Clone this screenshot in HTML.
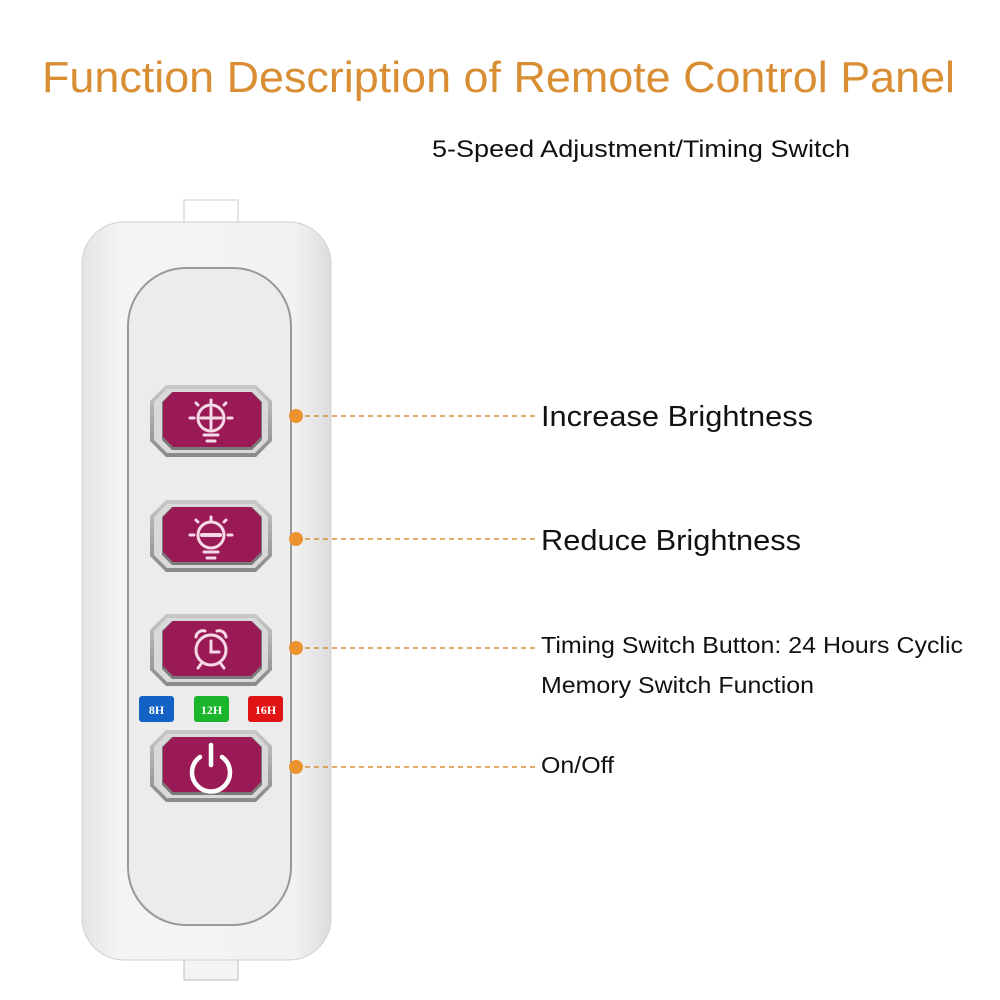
<!DOCTYPE html>
<html><head><meta charset="utf-8"><style>
html,body{margin:0;padding:0;background:#fff;}
body{width:1000px;height:1000px;overflow:hidden;position:relative;font-family:"Liberation Sans",Arial,sans-serif;}
</style></head><body>
<svg width="1000" height="1000" viewBox="0 0 1000 1000" xmlns="http://www.w3.org/2000/svg" style="position:absolute;left:0;top:0">
<defs>
<linearGradient id="body" x1="0" x2="1" y1="0" y2="0">
<stop offset="0" stop-color="#e4e4e4"/><stop offset="0.15" stop-color="#f4f4f4"/><stop offset="0.85" stop-color="#f2f2f2"/><stop offset="1" stop-color="#dcdcdc"/>
</linearGradient>
<linearGradient id="bez" x1="0" x2="0" y1="0" y2="1">
<stop offset="0" stop-color="#c8c8c8"/><stop offset="0.5" stop-color="#a8a8a8"/><stop offset="1" stop-color="#8a8a8a"/>
</linearGradient>
<g id="btn">
<polygon points="16,0 106,0 122,16 122,56 106,72 16,72 0,56 0,16" fill="url(#bez)"/>
<polygon points="17,4 105,4 118,17 118,55 105,68 17,68 4,55 4,17" fill="#d9d9d9"/>
<polygon points="22,7 102,7 112,17 112,55 102,65 22,65 12,55 12,17" fill="#7a7a7a"/>
<polygon points="23,7 101,7 111,17 111,52 101,62 23,62 13,52 13,17" fill="#9a1a55"/>
</g>
</defs>
<text x="42" y="92" font-size="44" fill="#d98e34" textLength="913" lengthAdjust="spacingAndGlyphs">Function Description of Remote Control Panel</text>
<text x="432" y="157" font-size="24" fill="#111" textLength="418" lengthAdjust="spacingAndGlyphs">5-Speed Adjustment/Timing Switch</text>

<rect x="184" y="200" width="54" height="30" fill="#fff" stroke="#ccc" stroke-width="1"/>
<rect x="184" y="950" width="54" height="30" fill="#f4f4f4" stroke="#bbb" stroke-width="1"/>
<rect x="82" y="222" width="249" height="738" rx="42" fill="url(#body)" stroke="#d0d0d0"/>
<rect x="128" y="268" width="163" height="657" rx="58" fill="#ececec" stroke="#999" stroke-width="2"/>

<use href="#btn" x="150" y="385"/>
<use href="#btn" x="150" y="500"/>
<use href="#btn" x="150" y="614"/>
<use href="#btn" x="150" y="730"/>

<g stroke="#f6d9e6" stroke-width="3" fill="none" stroke-linecap="round">
<circle cx="211" cy="418" r="13"/><line x1="201" y1="418" x2="221" y2="418"/><line x1="211" y1="408" x2="211" y2="428"/>
<line x1="204" y1="435" x2="218" y2="435"/><line x1="207" y1="441" x2="215" y2="441"/>
<line x1="211" y1="400" x2="211" y2="403"/><line x1="194" y1="418" x2="190" y2="418"/><line x1="228" y1="418" x2="232" y2="418"/>
<line x1="198" y1="405" x2="196" y2="403"/><line x1="224" y1="405" x2="226" y2="403"/>
<circle cx="211" cy="535" r="13"/><line x1="202" y1="535" x2="220" y2="535" stroke-width="4"/>
<line x1="204" y1="552" x2="218" y2="552"/><line x1="207" y1="558" x2="215" y2="558"/>
<line x1="211" y1="517" x2="211" y2="520"/><line x1="194" y1="535" x2="190" y2="535"/><line x1="228" y1="535" x2="232" y2="535"/>
<line x1="198" y1="522" x2="196" y2="520"/><line x1="224" y1="522" x2="226" y2="520"/>
<circle cx="211" cy="650" r="15"/><polyline points="211,641 211,652 219,652"/>
<line x1="201" y1="664" x2="198" y2="668"/><line x1="221" y1="664" x2="224" y2="668"/>
<path d="M196 637 a7 7 0 0 1 9 -6" /><path d="M226 637 a7 7 0 0 0 -9 -6"/>
<path d="M200 757 a19 19 0 1 0 22 0" stroke="#fff" stroke-width="4.5"/>
<line x1="211" y1="745" x2="211" y2="765" stroke="#fff" stroke-width="4.5"/>
</g>

<rect x="139" y="696" width="35" height="26" rx="3" fill="#1463c4"/>
<text x="156.5" y="714" text-anchor="middle" font-size="12" fill="#fff" font-family="Liberation Serif, serif" font-weight="bold">8H</text>
<rect x="194" y="696" width="35" height="26" rx="3" fill="#1ab52a"/>
<text x="211.5" y="714" text-anchor="middle" font-size="12" fill="#fff" font-family="Liberation Serif, serif" font-weight="bold">12H</text>
<rect x="248" y="696" width="35" height="26" rx="3" fill="#e01414"/>
<text x="265.5" y="714" text-anchor="middle" font-size="12" fill="#fff" font-family="Liberation Serif, serif" font-weight="bold">16H</text>

<g fill="#ec922e"><circle cx="296" cy="416" r="7"/><circle cx="296" cy="539" r="7"/><circle cx="296" cy="648" r="7"/><circle cx="296" cy="767" r="7"/></g>
<g stroke="#d98e34" stroke-width="1.5" stroke-dasharray="5,4">
<line x1="305" y1="416" x2="535" y2="416"/><line x1="305" y1="539" x2="535" y2="539"/>
<line x1="305" y1="648" x2="535" y2="648"/><line x1="305" y1="767" x2="535" y2="767"/>
</g>
<g fill="#111">
<text x="541" y="426" font-size="29" textLength="272" lengthAdjust="spacingAndGlyphs">Increase Brightness</text>
<text x="541" y="550" font-size="29" textLength="260" lengthAdjust="spacingAndGlyphs">Reduce Brightness</text>
<text x="541" y="653" font-size="23" textLength="422" lengthAdjust="spacingAndGlyphs">Timing Switch Button: 24 Hours Cyclic</text>
<text x="541" y="693" font-size="23" textLength="273" lengthAdjust="spacingAndGlyphs">Memory Switch Function</text>
<text x="541" y="773" font-size="23" textLength="73" lengthAdjust="spacingAndGlyphs">On/Off</text>
</g>
</svg>
</body></html>
